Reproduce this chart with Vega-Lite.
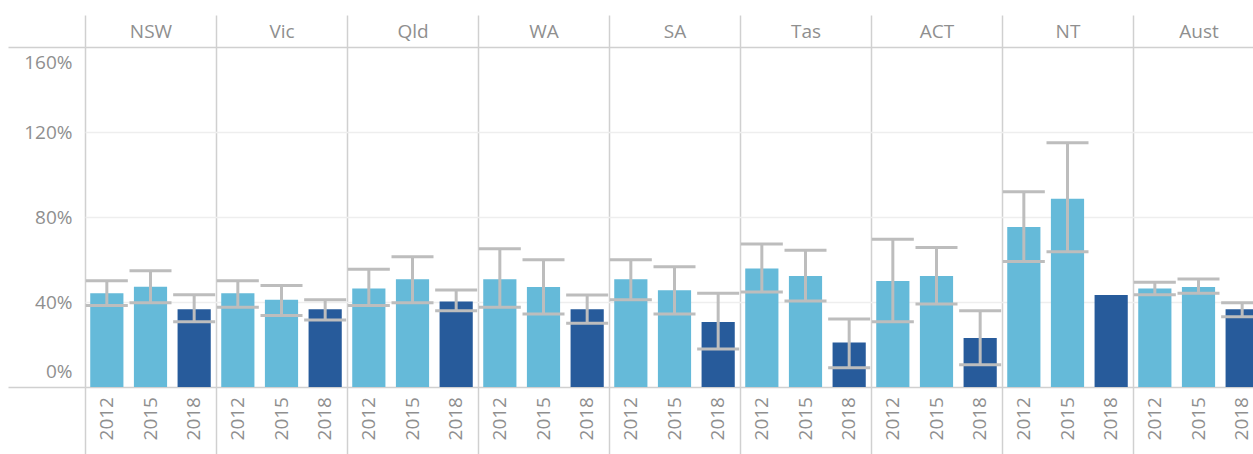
{
  "$schema": "https://vega.github.io/schema/vega-lite/v6.json",
  "autosize": {"type": "none"},
  "padding": {"left": 85, "top": 47, "right": 0, "bottom": 67},
  "width": 1168,
  "height": 340,
  "config": {
    "font": "Open Sans",
    "view": {"stroke": null},
    "axis": {"labelFont": "Open Sans", "labelFontSize": 19, "labelColor": "#8f8f8f"}
  },
  "data": {
    "values": [
      {"state": "NSW", "year": "2012", "value": 44.1, "lo": 38.3, "hi": 50.0},
      {"state": "NSW", "year": "2015", "value": 47.2, "lo": 39.7, "hi": 54.7},
      {"state": "NSW", "year": "2018", "value": 36.6, "lo": 30.7, "hi": 43.4},
      {"state": "Vic", "year": "2012", "value": 44.1, "lo": 37.5, "hi": 50.0},
      {"state": "Vic", "year": "2015", "value": 41.1, "lo": 33.7, "hi": 47.8},
      {"state": "Vic", "year": "2018", "value": 36.6, "lo": 31.5, "hi": 41.1},
      {"state": "Qld", "year": "2012", "value": 46.3, "lo": 38.4, "hi": 55.4},
      {"state": "Qld", "year": "2015", "value": 50.7, "lo": 39.7, "hi": 61.3},
      {"state": "Qld", "year": "2018", "value": 40.2, "lo": 35.9, "hi": 45.6},
      {"state": "WA", "year": "2012", "value": 50.7, "lo": 37.5, "hi": 65.1},
      {"state": "WA", "year": "2015", "value": 47.1, "lo": 34.4, "hi": 59.9},
      {"state": "WA", "year": "2018", "value": 36.6, "lo": 30.0, "hi": 43.3},
      {"state": "SA", "year": "2012", "value": 50.7, "lo": 41.1, "hi": 59.9},
      {"state": "SA", "year": "2015", "value": 45.5, "lo": 34.4, "hi": 56.6},
      {"state": "SA", "year": "2018", "value": 30.6, "lo": 17.9, "hi": 44.1},
      {"state": "Tas", "year": "2012", "value": 55.8, "lo": 44.7, "hi": 67.3},
      {"state": "Tas", "year": "2015", "value": 52.2, "lo": 40.5, "hi": 64.3},
      {"state": "Tas", "year": "2018", "value": 20.9, "lo": 9.1, "hi": 32.0},
      {"state": "ACT", "year": "2012", "value": 49.9, "lo": 30.7, "hi": 69.5},
      {"state": "ACT", "year": "2015", "value": 52.2, "lo": 39.1, "hi": 65.7},
      {"state": "ACT", "year": "2018", "value": 23.1, "lo": 10.5, "hi": 35.9},
      {"state": "NT", "year": "2012", "value": 75.3, "lo": 59.1, "hi": 91.9},
      {"state": "NT", "year": "2015", "value": 88.6, "lo": 63.7, "hi": 115.0},
      {"state": "NT", "year": "2018", "value": 43.3, "lo": null, "hi": null},
      {"state": "Aust", "year": "2012", "value": 46.3, "lo": 43.4, "hi": 49.3},
      {"state": "Aust", "year": "2015", "value": 47.1, "lo": 44.1, "hi": 50.8},
      {"state": "Aust", "year": "2018", "value": 36.6, "lo": 33.1, "hi": 39.7}
    ]
  },
  "layer": [
    {
      "mark": {"type": "bar"},
      "encoding": {
        "x": {
          "field": "state", "type": "nominal",
          "sort": ["NSW", "Vic", "Qld", "WA", "SA", "Tas", "ACT", "NT", "Aust"],
          "scale": {"range": [0, 1179], "paddingInner": 0, "paddingOuter": 0},
          "axis": {
            "orient": "top", "title": null, "tickBand": "extent", "tickSize": 32,
            "tickColor": "#d0d0d0", "tickWidth": 1.5, "domain": false,
            "grid": true, "gridColor": "#d0d0d0", "gridWidth": 1.5,
            "labelAngle": 0, "labelPadding": -26
          }
        },
        "xOffset": {"field": "year", "type": "ordinal", "scale": {"paddingInner": 0.24, "paddingOuter": 0.12}},
        "y": {
          "field": "value", "type": "quantitative",
          "scale": {"domain": [0, 160], "nice": false},
          "axis": {
            "title": null, "values": [0, 40, 80, 120, 160],
            "labelExpr": "datum.value + '%'", "domain": false, "grid": true,
            "gridColor": {"condition": {"test": "datum.value == 0 || datum.value == 160", "value": "#d0d0d0"}, "value": "#eeeeee"},
            "gridWidth": 1.5,
            "tickSize": 77, "tickWidth": 1.5,
            "tickColor": {"condition": {"test": "datum.value == 0 || datum.value == 160", "value": "#d0d0d0"}, "value": "transparent"},
            "labelPadding": -64,
            "labelFlush": true,
            "labelFlushOffset": -6
          }
        },
        "color": {
          "field": "year", "type": "nominal",
          "scale": {"domain": ["2012", "2015", "2018"], "range": ["#65bad9", "#65bad9", "#275b9b"]},
          "legend": null
        }
      }
    },
    {
      "mark": {"type": "rule", "color": "#bdbdbd", "strokeWidth": 3},
      "encoding": {
        "x": {"field": "state", "type": "nominal", "sort": ["NSW", "Vic", "Qld", "WA", "SA", "Tas", "ACT", "NT", "Aust"], "axis": null},
        "xOffset": {"field": "year", "type": "ordinal"},
        "y": {"field": "lo", "type": "quantitative"},
        "y2": {"field": "hi"}
      }
    },
    {
      "mark": {"type": "tick", "color": "#bdbdbd", "thickness": 3, "size": 42, "opacity": 1},
      "encoding": {
        "x": {"field": "state", "type": "nominal", "sort": ["NSW", "Vic", "Qld", "WA", "SA", "Tas", "ACT", "NT", "Aust"], "axis": null},
        "xOffset": {"field": "year", "type": "ordinal"},
        "y": {"field": "hi", "type": "quantitative"}
      }
    },
    {
      "mark": {"type": "tick", "color": "#bdbdbd", "thickness": 3, "size": 42, "opacity": 1},
      "encoding": {
        "x": {"field": "state", "type": "nominal", "sort": ["NSW", "Vic", "Qld", "WA", "SA", "Tas", "ACT", "NT", "Aust"], "axis": null},
        "xOffset": {"field": "year", "type": "ordinal"},
        "y": {"field": "lo", "type": "quantitative"}
      }
    },
    {
      "mark": {"type": "text", "angle": 270, "align": "right", "baseline": "middle", "dx": -10, "fontSize": 19, "color": "#8f8f8f", "font": "Open Sans"},
      "encoding": {
        "x": {
          "field": "state", "type": "nominal",
          "sort": ["NSW", "Vic", "Qld", "WA", "SA", "Tas", "ACT", "NT", "Aust"],
          "axis": {
            "orient": "bottom", "title": null, "labels": false, "tickBand": "extent",
            "tickSize": 67, "tickColor": "#d0d0d0", "tickWidth": 1.5, "domain": false, "grid": false
          }
        },
        "xOffset": {"field": "year", "type": "ordinal"},
        "y": {"datum": 0, "type": "quantitative"},
        "text": {"field": "year"}
      }
    }
  ],
  "resolve": {"axis": {"x": "independent"}}
}
